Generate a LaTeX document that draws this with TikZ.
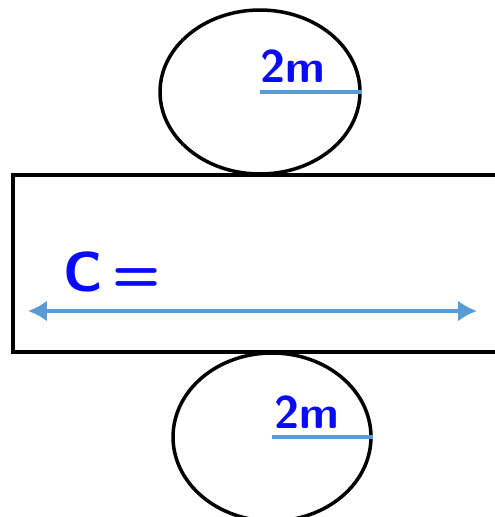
\documentclass[tikz,border=0pt]{standalone}
\usepackage{tikz}
\usetikzlibrary{arrows.meta,shapes.geometric}
\definecolor{lineblue}{RGB}{91,155,213}
\definecolor{inkblue}{RGB}{10,10,250}

\begin{document}
\begin{tikzpicture}[x=0.02cm, y=-0.02cm, >=Latex,
  every node/.style={font=\sffamily\bfseries},
  hand/.style={text=inkblue, font=\fontsize{26}{30}\sffamily\bfseries},
  radius/.style={draw=lineblue, line width=0.65mm}]
  \useasboundingbox (0,0) rectangle (494,517);
  \node[draw, line width=0.7mm, minimum width=9.74cm, minimum height=3.54cm, inner sep=0pt] (side) at (256.5,263.5) {};
  \node[draw, ellipse, line width=0.7mm, minimum width=4cm, minimum height=3.28cm, inner sep=0pt] (top) at (260,92) {};
  \node[draw, ellipse, line width=0.7mm, minimum width=3.96cm, minimum height=3.36cm, inner sep=0pt] (bottom) at (272,437) {};
  \node[hand] (topr) at (293,66) {2m};
  \node[hand] (bottomr) at (307,412) {2m};
  \node[hand, font=\fontsize{32}{36}\sffamily\bfseries] (circ) at (112,272) {C\,=};
  \coordinate (cl) at (28,311);
  \coordinate (cr) at (477,311);
  \draw[radius] (top.center) -- (top.east);
  \draw[radius] (bottom.center) -- (bottom.east);
  \draw[radius, {Latex[length=0.38cm,width=0.42cm]}-{Latex[length=0.38cm,width=0.42cm]}] (cl) -- (cr);
\end{tikzpicture}
\end{document}
